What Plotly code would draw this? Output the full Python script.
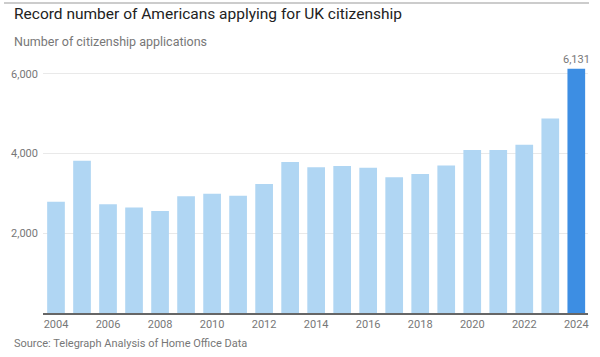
import plotly.graph_objects as go

years = list(range(2004, 2025))
applications = [2790, 3820, 2730, 2645, 2560, 2930, 2990, 2945, 3240, 3790,
                3660, 3690, 3648, 3405, 3488, 3705, 4090, 4092, 4220, 4880, 6131]
x_tick_labels = [str(y) for y in range(2004, 2025, 2)]
y_tick_vals = [2000, 4000, 6000]
y_tick_labels = ["2,000", "4,000", "6,000"]

light = "#b0d6f3"
dark = "#3d8ee3"
colors = [dark if y == 2024 else light for y in years]

fig = go.Figure()
fig.add_trace(go.Bar(x=years, y=applications, marker=dict(color=colors, line=dict(width=0)),
                     hoverinfo="x+y"))

fig.add_annotation(x=years[-1], y=applications[-1], text=f"{applications[-1]:,}",
                   showarrow=False, yanchor="bottom", yshift=1,
                   font=dict(family="Roboto, sans-serif", size=11, color="#777"))

fig.update_layout(
    width=600, height=357,
    margin=dict(l=39, r=11, t=61.5, b=43.5),
    paper_bgcolor="white", plot_bgcolor="white",
    bargap=0.32,
    showlegend=False,
    font=dict(family="Roboto, sans-serif", color="#777"),
    xaxis=dict(range=[2003.5, 2024.45], tickmode="array",
               tickvals=list(range(2004, 2025, 2)), ticktext=x_tick_labels,
               showgrid=False, showline=True, linecolor="#666", linewidth=1.5,
               ticks="", tickfont=dict(size=11, color="#777"), zeroline=False),
    yaxis=dict(range=[0, 6300], tickmode="array", tickvals=y_tick_vals, ticktext=y_tick_labels,
               showgrid=True, gridcolor="#e9e9e9", gridwidth=1, zeroline=False,
               ticks="", ticklabelstandoff=4, tickfont=dict(size=11, color="#777")),
)

# thin grey rule at the very top of the graphic
fig.add_annotation(xref="paper", yref="paper", x=-0.071, y=1.236, xanchor="left", yanchor="middle",
                   text=" ", showarrow=False, width=585, height=2, bgcolor="#cccccc",
                   borderpad=0, borderwidth=0, font=dict(size=1))

fig.add_annotation(xref="paper", yref="paper", x=-0.057, y=1.193, xanchor="left", yanchor="middle",
                   text="Record number of Americans applying for UK citizenship", showarrow=False,
                   font=dict(family="Roboto, sans-serif", size=15.5, color="#222"))
fig.add_annotation(xref="paper", yref="paper", x=-0.057, y=1.083, xanchor="left", yanchor="middle",
                   text="Number of citizenship applications", showarrow=False,
                   font=dict(family="Roboto, sans-serif", size=12.5, color="#777"))
fig.add_annotation(xref="paper", yref="paper", x=-0.057, y=-0.12, xanchor="left", yanchor="middle",
                   text="Source: Telegraph Analysis of Home Office Data", showarrow=False,
                   font=dict(family="Roboto, sans-serif", size=11, color="#777"))

fig.write_html("out.html", config={"displayModeBar": False},
               post_script="document.body.style.margin='0px';")
